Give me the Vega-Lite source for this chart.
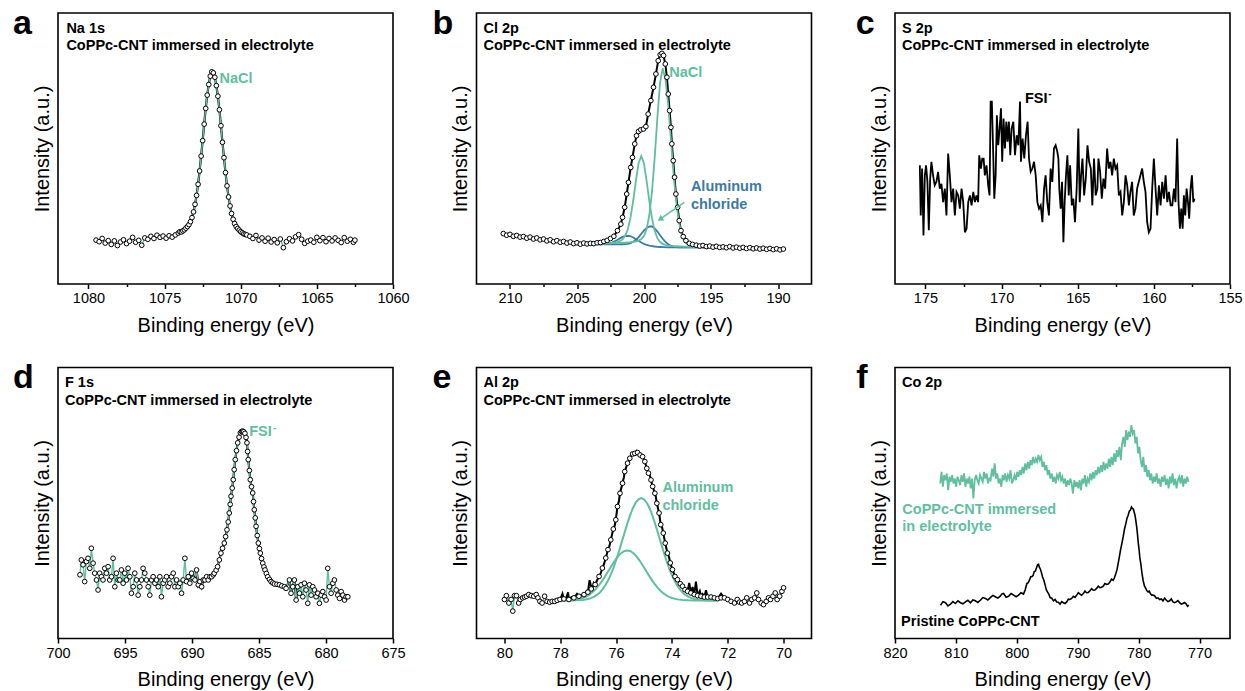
{
"$schema":"https://vega.github.io/schema/vega-lite/v6.json",
"padding":{"left":12,"top":6,"right":0,"bottom":0},
"config":{
 "font":"Liberation Sans",
 "view":{"stroke":"black","strokeWidth":1.6},
 "axis":{"domain":false,"grid":false,"labelColor":"black","titleColor":"black","tickColor":"black","tickWidth":1.5,"labelFontSize":14.5,"titleFontSize":20,"titleFontWeight":"normal","labelFont":"Liberation Sans","titleFont":"Liberation Sans","labelFlush":false,"labelOverlap":false},
 "text":{"font":"Liberation Sans","fontWeight":"bold","fontSize":14.5,"align":"left","baseline":"alphabetic","lineHeight":17.7}
},
"datasets":{
"a":[{"x":1079.5,"y":16.2},{"x":1079.3,"y":15.6},{"x":1079.1,"y":16.8},{"x":1078.9,"y":15.1},{"x":1078.7,"y":16.0},{"x":1078.5,"y":14.6},{"x":1078.3,"y":15.9},{"x":1078.1,"y":14.2},{"x":1077.9,"y":15.5},{"x":1077.7,"y":16.3},{"x":1077.5,"y":14.9},{"x":1077.3,"y":15.8},{"x":1077.1,"y":17.2},{"x":1076.9,"y":15.4},{"x":1076.7,"y":16.1},{"x":1076.5,"y":14.3},{"x":1076.3,"y":17.0},{"x":1076.1,"y":16.5},{"x":1075.9,"y":17.6},{"x":1075.7,"y":16.8},{"x":1075.5,"y":18.0},{"x":1075.3,"y":17.2},{"x":1075.1,"y":17.7},{"x":1074.9,"y":16.9},{"x":1074.7,"y":17.8},{"x":1074.5,"y":17.3},{"x":1074.3,"y":18.1},{"x":1074.1,"y":18.8},{"x":1074.0,"y":19.3},{"x":1073.9,"y":19.2},{"x":1073.8,"y":19.6},{"x":1073.7,"y":20.0},{"x":1073.6,"y":20.6},{"x":1073.5,"y":21.2},{"x":1073.4,"y":21.9},{"x":1073.3,"y":23.0},{"x":1073.2,"y":24.5},{"x":1073.1,"y":26.6},{"x":1073.0,"y":29.4},{"x":1072.9,"y":32.7},{"x":1072.8,"y":36.8},{"x":1072.7,"y":41.7},{"x":1072.6,"y":47.2},{"x":1072.5,"y":52.9},{"x":1072.4,"y":59.0},{"x":1072.3,"y":64.8},{"x":1072.2,"y":69.7},{"x":1072.1,"y":73.6},{"x":1072.0,"y":76.7},{"x":1071.9,"y":78.3},{"x":1071.8,"y":77.9},{"x":1071.7,"y":76.3},{"x":1071.6,"y":73.2},{"x":1071.5,"y":69.3},{"x":1071.4,"y":64.3},{"x":1071.3,"y":58.4},{"x":1071.2,"y":52.3},{"x":1071.1,"y":46.6},{"x":1071.0,"y":41.1},{"x":1070.9,"y":36.2},{"x":1070.8,"y":32.1},{"x":1070.7,"y":28.8},{"x":1070.6,"y":26.0},{"x":1070.5,"y":23.9},{"x":1070.4,"y":22.3},{"x":1070.3,"y":21.2},{"x":1070.2,"y":20.5},{"x":1070.1,"y":19.9},{"x":1070.0,"y":19.3},{"x":1069.9,"y":18.9},{"x":1069.8,"y":18.5},{"x":1069.7,"y":18.3},{"x":1069.6,"y":18.1},{"x":1069.4,"y":17.6},{"x":1069.2,"y":16.8},{"x":1069.0,"y":17.9},{"x":1068.8,"y":16.2},{"x":1068.6,"y":17.0},{"x":1068.4,"y":15.8},{"x":1068.2,"y":16.9},{"x":1068.0,"y":15.5},{"x":1067.8,"y":16.4},{"x":1067.6,"y":15.2},{"x":1067.4,"y":16.6},{"x":1067.2,"y":13.4},{"x":1067.0,"y":15.6},{"x":1066.8,"y":16.7},{"x":1066.6,"y":15.9},{"x":1066.4,"y":17.4},{"x":1066.2,"y":18.2},{"x":1066.0,"y":16.5},{"x":1065.8,"y":15.0},{"x":1065.6,"y":15.8},{"x":1065.4,"y":16.2},{"x":1065.2,"y":15.4},{"x":1065.0,"y":17.2},{"x":1064.8,"y":16.0},{"x":1064.6,"y":17.1},{"x":1064.4,"y":15.6},{"x":1064.2,"y":16.8},{"x":1064.0,"y":15.9},{"x":1063.8,"y":17.0},{"x":1063.6,"y":16.1},{"x":1063.4,"y":15.3},{"x":1063.2,"y":17.1},{"x":1063.0,"y":15.8},{"x":1062.8,"y":16.5},{"x":1062.6,"y":15.4},{"x":1062.5,"y":16.2}],
"b":[{"x":210.5,"y":18.6},{"x":210.25,"y":18.0},{"x":210.0,"y":18.3},{"x":209.75,"y":17.6},{"x":209.5,"y":17.9},{"x":209.25,"y":17.3},{"x":209.0,"y":17.5},{"x":208.75,"y":16.9},{"x":208.5,"y":17.3},{"x":208.25,"y":16.6},{"x":208.0,"y":17.0},{"x":207.75,"y":16.3},{"x":207.5,"y":16.6},{"x":207.25,"y":15.9},{"x":207.0,"y":16.3},{"x":206.75,"y":15.6},{"x":206.5,"y":16.0},{"x":206.25,"y":15.4},{"x":206.0,"y":15.7},{"x":205.75,"y":15.1},{"x":205.5,"y":15.5},{"x":205.25,"y":14.9},{"x":205.0,"y":15.2},{"x":204.75,"y":14.7},{"x":204.5,"y":15.1},{"x":204.25,"y":14.8},{"x":204.0,"y":15.0},{"x":203.75,"y":14.9},{"x":203.5,"y":15.2},{"x":203.25,"y":15.3},{"x":203.0,"y":15.7},{"x":202.75,"y":16.1},{"x":202.5,"y":16.8},{"x":202.25,"y":17.6},{"x":201.98,"y":19.7},{"x":201.73,"y":22.1},{"x":201.6,"y":24.6},{"x":201.44,"y":28.3},{"x":201.29,"y":33.2},{"x":201.16,"y":37.5},{"x":200.99,"y":43.0},{"x":200.86,"y":46.7},{"x":200.69,"y":51.7},{"x":200.56,"y":54.7},{"x":200.41,"y":56.3},{"x":200.24,"y":56.9},{"x":200.04,"y":57.2},{"x":199.86,"y":58.1},{"x":199.69,"y":62.7},{"x":199.49,"y":67.7},{"x":199.29,"y":72.6},{"x":199.11,"y":77.5},{"x":198.94,"y":82.4},{"x":198.79,"y":84.6},{"x":198.66,"y":85.1},{"x":198.54,"y":84.3},{"x":198.41,"y":81.2},{"x":198.29,"y":76.3},{"x":198.19,"y":70.1},{"x":198.09,"y":64.0},{"x":197.99,"y":57.8},{"x":197.92,"y":51.7},{"x":197.82,"y":45.5},{"x":197.72,"y":39.4},{"x":197.62,"y":33.2},{"x":197.49,"y":28.3},{"x":197.37,"y":23.4},{"x":197.24,"y":19.7},{"x":197.07,"y":17.5},{"x":196.87,"y":16.0},{"x":196.62,"y":15.0},{"x":196.37,"y":14.6},{"x":196.1,"y":14.3},{"x":195.85,"y":14.0},{"x":195.6,"y":14.2},{"x":195.35,"y":13.8},{"x":195.1,"y":14.0},{"x":194.85,"y":13.6},{"x":194.6,"y":13.9},{"x":194.35,"y":13.5},{"x":194.1,"y":13.7},{"x":193.85,"y":13.4},{"x":193.6,"y":13.8},{"x":193.35,"y":13.3},{"x":193.1,"y":13.6},{"x":192.85,"y":13.2},{"x":192.6,"y":13.5},{"x":192.35,"y":13.1},{"x":192.1,"y":13.4},{"x":191.85,"y":13.0},{"x":191.6,"y":13.3},{"x":191.35,"y":12.9},{"x":191.1,"y":13.2},{"x":190.85,"y":12.8},{"x":190.6,"y":13.1},{"x":190.35,"y":12.7},{"x":190.1,"y":13.0},{"x":189.85,"y":12.6},{"x":189.6,"y":12.9}],
"bc":[{"x":203.4,"y":14.86,"s":"P1"},{"x":203.0,"y":14.9,"s":"P1"},{"x":202.6,"y":14.96,"s":"P1"},{"x":202.2,"y":15.05,"s":"P1"},{"x":201.8,"y":15.17,"s":"P1"},{"x":201.4,"y":15.28,"s":"P1"},{"x":201.0,"y":15.41,"s":"P1"},{"x":200.6,"y":15.69,"s":"P1"},{"x":200.4,"y":16.03,"s":"P1"},{"x":200.2,"y":16.58,"s":"P1"},{"x":200.0,"y":17.8,"s":"P1"},{"x":199.8,"y":20.4,"s":"P1"},{"x":199.6,"y":25.55,"s":"P1"},{"x":199.4,"y":34.3,"s":"P1"},{"x":199.2,"y":46.8,"s":"P1"},{"x":199.0,"y":61.5,"s":"P1"},{"x":198.8,"y":74.35,"s":"P1"},{"x":198.6,"y":79.6,"s":"P1"},{"x":198.4,"y":75.5,"s":"P1"},{"x":198.2,"y":66.5,"s":"P1"},{"x":198.0,"y":54.0,"s":"P1"},{"x":197.8,"y":41.0,"s":"P1"},{"x":197.6,"y":30.5,"s":"P1"},{"x":197.4,"y":23.0,"s":"P1"},{"x":197.2,"y":18.5,"s":"P1"},{"x":197.0,"y":16.0,"s":"P1"},{"x":196.8,"y":14.9,"s":"P1"},{"x":196.6,"y":14.3,"s":"P1"},{"x":196.4,"y":14.0,"s":"P1"},{"x":196.0,"y":13.8,"s":"P1"},{"x":195.6,"y":13.6,"s":"P1"},{"x":195.2,"y":13.5,"s":"P1"},
{"x":203.4,"y":14.89,"s":"P2"},{"x":203.0,"y":14.96,"s":"P2"},{"x":202.6,"y":15.08,"s":"P2"},{"x":202.2,"y":15.29,"s":"P2"},{"x":202.0,"y":15.49,"s":"P2"},{"x":201.8,"y":15.79,"s":"P2"},{"x":201.6,"y":16.45,"s":"P2"},{"x":201.4,"y":17.75,"s":"P2"},{"x":201.2,"y":20.31,"s":"P2"},{"x":201.0,"y":24.65,"s":"P2"},{"x":200.8,"y":30.9,"s":"P2"},{"x":200.6,"y":38.2,"s":"P2"},{"x":200.4,"y":44.65,"s":"P2"},{"x":200.2,"y":47.2,"s":"P2"},{"x":200.0,"y":44.5,"s":"P2"},{"x":199.8,"y":37.9,"s":"P2"},{"x":199.6,"y":30.45,"s":"P2"},{"x":199.4,"y":24.1,"s":"P2"},{"x":199.2,"y":19.61,"s":"P2"},{"x":199.0,"y":16.9,"s":"P2"},{"x":198.8,"y":15.5,"s":"P2"},{"x":198.6,"y":14.79,"s":"P2"},{"x":198.4,"y":14.44,"s":"P2"},{"x":198.2,"y":14.19,"s":"P2"},{"x":198.0,"y":14.06,"s":"P2"},{"x":197.6,"y":13.93,"s":"P2"},{"x":197.0,"y":13.79,"s":"P2"},{"x":196.6,"y":13.7,"s":"P2"},{"x":196.0,"y":13.6,"s":"P2"},{"x":195.2,"y":13.5,"s":"P2"},
{"x":203.4,"y":14.6,"s":"P3"},{"x":202.0,"y":14.61,"s":"P3"},{"x":201.8,"y":14.62,"s":"P3"},{"x":201.6,"y":14.66,"s":"P3"},{"x":201.4,"y":14.7,"s":"P3"},{"x":201.2,"y":14.83,"s":"P3"},{"x":201.0,"y":15.09,"s":"P3"},{"x":200.8,"y":15.58,"s":"P3"},{"x":200.6,"y":16.3,"s":"P3"},{"x":200.4,"y":17.33,"s":"P3"},{"x":200.2,"y":18.55,"s":"P3"},{"x":200.0,"y":19.75,"s":"P3"},{"x":199.8,"y":20.71,"s":"P3"},{"x":199.6,"y":21.27,"s":"P3"},{"x":199.4,"y":21.22,"s":"P3"},{"x":199.2,"y":20.51,"s":"P3"},{"x":199.0,"y":19.35,"s":"P3"},{"x":198.8,"y":18.0,"s":"P3"},{"x":198.6,"y":16.68,"s":"P3"},{"x":198.4,"y":15.55,"s":"P3"},{"x":198.2,"y":14.68,"s":"P3"},{"x":198.0,"y":14.14,"s":"P3"},{"x":197.8,"y":13.83,"s":"P3"},{"x":197.6,"y":13.65,"s":"P3"},{"x":197.4,"y":13.56,"s":"P3"},{"x":197.0,"y":13.5,"s":"P3"},{"x":195.2,"y":13.5,"s":"P3"},
{"x":203.4,"y":14.62,"s":"P4"},{"x":203.0,"y":14.7,"s":"P4"},{"x":202.6,"y":15.0,"s":"P4"},{"x":202.4,"y":15.29,"s":"P4"},{"x":202.2,"y":15.72,"s":"P4"},{"x":202.0,"y":16.25,"s":"P4"},{"x":201.8,"y":16.83,"s":"P4"},{"x":201.6,"y":17.38,"s":"P4"},{"x":201.4,"y":17.71,"s":"P4"},{"x":201.2,"y":17.8,"s":"P4"},{"x":201.0,"y":17.61,"s":"P4"},{"x":200.8,"y":17.18,"s":"P4"},{"x":200.6,"y":16.53,"s":"P4"},{"x":200.4,"y":15.9,"s":"P4"},{"x":200.2,"y":15.32,"s":"P4"},{"x":200.0,"y":14.79,"s":"P4"},{"x":199.8,"y":14.4,"s":"P4"},{"x":199.6,"y":14.16,"s":"P4"},{"x":199.4,"y":14.0,"s":"P4"},{"x":199.2,"y":13.84,"s":"P4"},{"x":199.0,"y":13.72,"s":"P4"},{"x":198.8,"y":13.65,"s":"P4"},{"x":198.6,"y":13.6,"s":"P4"},{"x":198.2,"y":13.5,"s":"P4"},{"x":195.2,"y":13.5,"s":"P4"}],
"c":[{"x":175.37,"y":43.8},{"x":175.31,"y":25.3},{"x":175.22,"y":42.6},{"x":175.13,"y":17.9},{"x":175.04,"y":40.1},{"x":174.96,"y":43.8},{"x":174.87,"y":37.7},{"x":174.78,"y":19.8},{"x":174.69,"y":38.9},{"x":174.61,"y":45.1},{"x":174.5,"y":40.1},{"x":174.39,"y":36.4},{"x":174.28,"y":37.7},{"x":174.17,"y":41.4},{"x":174.06,"y":35.2},{"x":173.95,"y":37.0},{"x":173.84,"y":30.2},{"x":173.73,"y":35.2},{"x":173.62,"y":25.3},{"x":173.51,"y":48.1},{"x":173.4,"y":40.1},{"x":173.29,"y":30.2},{"x":173.18,"y":35.2},{"x":173.07,"y":25.3},{"x":172.96,"y":34.0},{"x":172.85,"y":32.7},{"x":172.74,"y":27.8},{"x":172.63,"y":35.2},{"x":172.52,"y":30.2},{"x":172.41,"y":19.1},{"x":172.3,"y":20.4},{"x":172.19,"y":30.2},{"x":172.08,"y":32.7},{"x":171.97,"y":29.0},{"x":171.86,"y":34.0},{"x":171.75,"y":30.2},{"x":171.65,"y":32.7},{"x":171.54,"y":30.2},{"x":171.47,"y":47.5},{"x":171.36,"y":42.6},{"x":171.27,"y":46.3},{"x":171.18,"y":46.3},{"x":171.1,"y":40.1},{"x":170.99,"y":43.8},{"x":170.88,"y":36.4},{"x":170.79,"y":32.7},{"x":170.72,"y":67.3},{"x":170.64,"y":67.3},{"x":170.57,"y":52.5},{"x":170.48,"y":31.5},{"x":170.39,"y":40.1},{"x":170.31,"y":62.3},{"x":170.22,"y":51.2},{"x":170.13,"y":57.4},{"x":170.04,"y":64.8},{"x":169.96,"y":45.1},{"x":169.87,"y":61.1},{"x":169.78,"y":50.0},{"x":169.69,"y":59.9},{"x":169.61,"y":52.5},{"x":169.52,"y":59.9},{"x":169.43,"y":47.5},{"x":169.34,"y":57.4},{"x":169.23,"y":59.9},{"x":169.12,"y":47.5},{"x":169.01,"y":54.9},{"x":168.9,"y":51.2},{"x":168.79,"y":67.3},{"x":168.73,"y":45.1},{"x":168.62,"y":53.7},{"x":168.51,"y":46.3},{"x":168.4,"y":54.9},{"x":168.29,"y":59.9},{"x":168.2,"y":46.3},{"x":168.09,"y":41.4},{"x":167.98,"y":42.6},{"x":167.87,"y":45.1},{"x":167.76,"y":40.1},{"x":167.65,"y":30.2},{"x":167.54,"y":27.8},{"x":167.43,"y":29.0},{"x":167.32,"y":22.8},{"x":167.21,"y":35.2},{"x":167.11,"y":40.1},{"x":167.0,"y":30.2},{"x":166.89,"y":25.3},{"x":166.78,"y":42.6},{"x":166.67,"y":37.7},{"x":166.56,"y":50.0},{"x":166.45,"y":51.2},{"x":166.34,"y":48.8},{"x":166.27,"y":46.3},{"x":166.21,"y":35.2},{"x":166.12,"y":27.8},{"x":166.03,"y":37.7},{"x":165.94,"y":15.4},{"x":165.86,"y":30.2},{"x":165.77,"y":40.1},{"x":165.68,"y":47.5},{"x":165.59,"y":32.7},{"x":165.5,"y":43.8},{"x":165.39,"y":29.0},{"x":165.29,"y":31.5},{"x":165.18,"y":22.8},{"x":165.07,"y":35.2},{"x":164.96,"y":57.4},{"x":164.87,"y":30.2},{"x":164.78,"y":40.1},{"x":164.69,"y":46.3},{"x":164.58,"y":32.7},{"x":164.47,"y":38.9},{"x":164.36,"y":51.2},{"x":164.25,"y":45.1},{"x":164.14,"y":42.6},{"x":164.04,"y":29.0},{"x":163.93,"y":46.3},{"x":163.82,"y":32.7},{"x":163.71,"y":35.2},{"x":163.64,"y":46.3},{"x":163.53,"y":41.4},{"x":163.42,"y":31.5},{"x":163.31,"y":38.9},{"x":163.2,"y":35.2},{"x":163.07,"y":50.0},{"x":162.96,"y":42.6},{"x":162.85,"y":45.1},{"x":162.74,"y":40.1},{"x":162.63,"y":46.3},{"x":162.52,"y":42.6},{"x":162.41,"y":43.8},{"x":162.3,"y":32.7},{"x":162.19,"y":34.0},{"x":162.08,"y":25.3},{"x":161.97,"y":30.2},{"x":161.86,"y":40.1},{"x":161.75,"y":36.4},{"x":161.64,"y":29.0},{"x":161.54,"y":34.0},{"x":161.43,"y":37.7},{"x":161.32,"y":25.3},{"x":161.21,"y":27.8},{"x":161.1,"y":35.2},{"x":160.99,"y":37.7},{"x":160.88,"y":40.1},{"x":160.77,"y":42.6},{"x":160.66,"y":37.7},{"x":160.55,"y":34.0},{"x":160.44,"y":22.8},{"x":160.33,"y":19.1},{"x":160.22,"y":20.4},{"x":160.11,"y":35.2},{"x":160.0,"y":46.3},{"x":159.89,"y":35.2},{"x":159.78,"y":25.3},{"x":159.67,"y":36.4},{"x":159.56,"y":29.0},{"x":159.45,"y":37.7},{"x":159.34,"y":31.5},{"x":159.23,"y":40.1},{"x":159.12,"y":30.2},{"x":159.01,"y":34.0},{"x":158.9,"y":29.0},{"x":158.79,"y":29.0},{"x":158.68,"y":35.2},{"x":158.58,"y":30.2},{"x":158.47,"y":53.7},{"x":158.38,"y":30.2},{"x":158.29,"y":20.4},{"x":158.2,"y":27.8},{"x":158.11,"y":20.4},{"x":158.03,"y":32.7},{"x":157.94,"y":25.3},{"x":157.85,"y":35.2},{"x":157.76,"y":30.2},{"x":157.68,"y":24.1},{"x":157.59,"y":35.2},{"x":157.5,"y":40.1},{"x":157.41,"y":30.2},{"x":157.33,"y":31.5}],
"d":[{"x":698.36,"y":23.5},{"x":698.26,"y":29.0},{"x":698.13,"y":27.2},{"x":698.01,"y":21.0},{"x":697.88,"y":28.4},{"x":697.76,"y":29.6},{"x":697.63,"y":25.9},{"x":697.51,"y":33.3},{"x":697.38,"y":27.8},{"x":697.26,"y":24.1},{"x":697.13,"y":21.6},{"x":697.01,"y":17.9},{"x":696.89,"y":24.1},{"x":696.76,"y":22.8},{"x":696.64,"y":21.6},{"x":696.51,"y":25.9},{"x":696.39,"y":24.1},{"x":696.26,"y":26.5},{"x":696.14,"y":21.6},{"x":696.01,"y":22.8},{"x":695.89,"y":29.6},{"x":695.76,"y":19.1},{"x":695.64,"y":24.1},{"x":695.51,"y":21.6},{"x":695.39,"y":21.6},{"x":695.27,"y":25.3},{"x":695.14,"y":20.4},{"x":695.02,"y":24.1},{"x":694.89,"y":21.6},{"x":694.77,"y":25.9},{"x":694.64,"y":22.8},{"x":694.52,"y":16.7},{"x":694.39,"y":19.1},{"x":694.27,"y":24.1},{"x":694.14,"y":21.6},{"x":694.02,"y":16.0},{"x":693.89,"y":19.1},{"x":693.77,"y":21.6},{"x":693.65,"y":25.9},{"x":693.52,"y":24.1},{"x":693.4,"y":21.6},{"x":693.27,"y":19.1},{"x":693.15,"y":16.0},{"x":693.02,"y":21.6},{"x":692.9,"y":22.8},{"x":692.77,"y":20.4},{"x":692.65,"y":21.6},{"x":692.52,"y":19.1},{"x":692.4,"y":22.8},{"x":692.28,"y":15.4},{"x":692.15,"y":20.4},{"x":692.03,"y":21.6},{"x":691.9,"y":22.8},{"x":691.78,"y":19.1},{"x":691.65,"y":20.4},{"x":691.53,"y":22.8},{"x":691.4,"y":24.1},{"x":691.28,"y":19.1},{"x":691.15,"y":21.6},{"x":691.03,"y":19.1},{"x":690.9,"y":20.4},{"x":690.78,"y":16.7},{"x":690.66,"y":21.6},{"x":690.53,"y":29.6},{"x":690.41,"y":21.0},{"x":690.28,"y":22.8},{"x":690.16,"y":20.4},{"x":690.03,"y":24.1},{"x":689.91,"y":22.2},{"x":689.78,"y":21.6},{"x":689.66,"y":25.3},{"x":689.53,"y":19.8},{"x":689.41,"y":21.0},{"x":689.28,"y":19.1},{"x":689.16,"y":21.6},{"x":689.04,"y":21.6},{"x":688.91,"y":22.8},{"x":688.79,"y":21.6},{"x":688.66,"y":22.8},{"x":688.54,"y":22.8},{"x":688.41,"y":23.5},{"x":688.34,"y":24.1},{"x":688.2,"y":25.2},{"x":688.09,"y":26.5},{"x":687.96,"y":29.0},{"x":687.84,"y":31.5},{"x":687.72,"y":33.3},{"x":687.59,"y":35.2},{"x":687.49,"y":37.6},{"x":687.39,"y":40.1},{"x":687.3,"y":43.0},{"x":687.22,"y":46.3},{"x":687.15,"y":49.5},{"x":687.09,"y":52.5},{"x":687.0,"y":55.5},{"x":686.92,"y":58.6},{"x":686.85,"y":62.3},{"x":686.77,"y":66.0},{"x":686.68,"y":69.3},{"x":686.59,"y":72.2},{"x":686.49,"y":74.3},{"x":686.39,"y":75.9},{"x":686.3,"y":76.4},{"x":686.22,"y":76.5},{"x":686.14,"y":76.3},{"x":686.05,"y":75.7},{"x":685.97,"y":74.2},{"x":685.9,"y":72.2},{"x":685.85,"y":69.0},{"x":685.8,"y":66.0},{"x":685.72,"y":62.0},{"x":685.65,"y":58.6},{"x":685.56,"y":56.0},{"x":685.47,"y":53.7},{"x":685.41,"y":50.5},{"x":685.35,"y":47.5},{"x":685.28,"y":44.5},{"x":685.22,"y":41.4},{"x":685.13,"y":38.0},{"x":685.05,"y":35.2},{"x":684.97,"y":33.2},{"x":684.9,"y":31.5},{"x":684.81,"y":29.5},{"x":684.72,"y":27.8},{"x":684.63,"y":26.4},{"x":684.55,"y":25.3},{"x":684.45,"y":24.0},{"x":684.35,"y":22.8},{"x":684.22,"y":21.8},{"x":684.1,"y":21.0},{"x":683.97,"y":20.5},{"x":683.85,"y":20.1},{"x":683.66,"y":20.0},{"x":683.48,"y":19.8},{"x":683.3,"y":19.4},{"x":683.11,"y":19.1},{"x":682.98,"y":18.5},{"x":682.73,"y":21.6},{"x":682.61,"y":16.7},{"x":682.48,"y":19.1},{"x":682.36,"y":21.6},{"x":682.23,"y":14.2},{"x":682.11,"y":19.1},{"x":681.98,"y":16.7},{"x":681.86,"y":19.8},{"x":681.73,"y":15.4},{"x":681.61,"y":20.4},{"x":681.49,"y":17.9},{"x":681.36,"y":13.0},{"x":681.24,"y":19.8},{"x":681.11,"y":16.0},{"x":680.99,"y":19.1},{"x":680.86,"y":17.9},{"x":680.74,"y":15.4},{"x":680.61,"y":16.7},{"x":680.49,"y":13.0},{"x":680.36,"y":16.0},{"x":680.24,"y":17.3},{"x":680.11,"y":15.4},{"x":679.99,"y":14.2},{"x":679.87,"y":25.9},{"x":679.74,"y":19.1},{"x":679.62,"y":16.7},{"x":679.49,"y":20.4},{"x":679.37,"y":21.6},{"x":679.24,"y":17.9},{"x":679.12,"y":16.0},{"x":678.99,"y":14.8},{"x":678.87,"y":17.3},{"x":678.74,"y":16.0},{"x":678.62,"y":14.2},{"x":678.5,"y":15.4},{"x":678.37,"y":15.4}],
"e":[{"x":80.0,"y":14.4},{"x":79.93,"y":15.8},{"x":79.84,"y":13.1},{"x":79.76,"y":14.4},{"x":79.7,"y":10.1},{"x":79.64,"y":15.8},{"x":79.57,"y":15.8},{"x":79.49,"y":13.1},{"x":79.43,"y":14.4},{"x":79.35,"y":15.0},{"x":79.28,"y":15.3},{"x":79.21,"y":15.6},{"x":79.13,"y":16.2},{"x":79.04,"y":15.8},{"x":78.95,"y":15.6},{"x":78.86,"y":16.2},{"x":78.8,"y":15.0},{"x":78.73,"y":13.7},{"x":78.65,"y":13.1},{"x":78.56,"y":15.6},{"x":78.47,"y":13.7},{"x":78.38,"y":13.4},{"x":78.29,"y":13.7},{"x":78.2,"y":13.7},{"x":78.11,"y":14.1},{"x":78.01,"y":14.4},{"x":77.87,"y":14.6},{"x":77.69,"y":14.4},{"x":77.51,"y":15.0},{"x":77.33,"y":15.6},{"x":77.15,"y":16.2},{"x":77.01,"y":17.1},{"x":76.89,"y":18.3},{"x":76.75,"y":19.9},{"x":76.61,"y":22.9},{"x":76.49,"y":26.0},{"x":76.37,"y":29.7},{"x":76.29,"y":32.8},{"x":76.19,"y":36.4},{"x":76.1,"y":40.4},{"x":76.01,"y":43.8},{"x":75.95,"y":48.7},{"x":75.86,"y":53.6},{"x":75.77,"y":57.3},{"x":75.69,"y":61.6},{"x":75.59,"y":64.7},{"x":75.51,"y":66.5},{"x":75.41,"y":68.1},{"x":75.33,"y":68.3},{"x":75.23,"y":68.6},{"x":75.14,"y":67.7},{"x":75.05,"y":67.1},{"x":74.97,"y":65.3},{"x":74.9,"y":62.8},{"x":74.84,"y":61.0},{"x":74.75,"y":58.5},{"x":74.69,"y":56.1},{"x":74.61,"y":53.6},{"x":74.54,"y":49.9},{"x":74.46,"y":46.3},{"x":74.4,"y":42.0},{"x":74.31,"y":38.9},{"x":74.24,"y":35.2},{"x":74.16,"y":31.5},{"x":74.06,"y":27.9},{"x":73.98,"y":25.4},{"x":73.89,"y":22.9},{"x":73.8,"y":21.7},{"x":73.7,"y":20.2},{"x":73.62,"y":19.3},{"x":73.53,"y":18.0},{"x":73.44,"y":17.4},{"x":73.32,"y":16.8},{"x":73.2,"y":16.2},{"x":73.08,"y":15.8},{"x":72.96,"y":15.6},{"x":72.84,"y":15.3},{"x":72.72,"y":15.3},{"x":72.6,"y":15.3},{"x":72.48,"y":15.0},{"x":72.36,"y":14.7},{"x":72.24,"y":15.0},{"x":72.12,"y":15.0},{"x":72.0,"y":14.4},{"x":71.88,"y":13.7},{"x":71.76,"y":13.1},{"x":71.66,"y":14.4},{"x":71.58,"y":13.4},{"x":71.5,"y":13.1},{"x":71.4,"y":13.7},{"x":71.32,"y":15.0},{"x":71.22,"y":13.1},{"x":71.14,"y":14.4},{"x":71.04,"y":15.0},{"x":70.96,"y":16.8},{"x":70.9,"y":14.4},{"x":70.8,"y":13.1},{"x":70.72,"y":12.5},{"x":70.62,"y":13.7},{"x":70.54,"y":15.0},{"x":70.47,"y":14.4},{"x":70.38,"y":15.6},{"x":70.3,"y":16.8},{"x":70.23,"y":14.4},{"x":70.14,"y":15.6},{"x":70.06,"y":17.4},{"x":70.0,"y":18.7}],
"eb":[{"x":78.1,"y":14.1},{"x":78.0,"y":14.4},{"x":77.92,"y":16.5},{"x":77.87,"y":14.6},{"x":77.78,"y":15.2},{"x":77.72,"y":17.0},{"x":77.69,"y":14.4},{"x":77.6,"y":15.3},{"x":77.51,"y":15.0},{"x":77.4,"y":16.5},{"x":77.33,"y":15.6},{"x":77.25,"y":16.0},{"x":77.15,"y":16.2},{"x":77.05,"y":17.5},{"x":77.01,"y":17.1},{"x":76.95,"y":21.5},{"x":76.9,"y":19.5},{"x":76.85,"y":18.3},{"x":76.8,"y":20.5},{"x":76.75,"y":19.9},{"x":76.68,"y":21.5},{"x":76.61,"y":22.9},{"x":76.55,"y":24.0},{"x":76.49,"y":26.0},{"x":76.43,"y":27.5},{"x":76.37,"y":29.7},{"x":76.29,"y":32.8},{"x":76.24,"y":34.0},{"x":76.19,"y":36.4},{"x":76.1,"y":40.4},{"x":76.05,"y":41.5},{"x":76.01,"y":43.8},{"x":75.95,"y":48.7},{"x":75.9,"y":50.5},{"x":75.86,"y":53.6},{"x":75.77,"y":57.3},{"x":75.72,"y":59.5},{"x":75.69,"y":61.6},{"x":75.59,"y":64.7},{"x":75.55,"y":65.0},{"x":75.51,"y":66.5},{"x":75.41,"y":68.1},{"x":75.33,"y":68.3},{"x":75.27,"y":69.2},{"x":75.23,"y":68.6},{"x":75.14,"y":67.7},{"x":75.05,"y":67.1},{"x":74.97,"y":65.3},{"x":74.9,"y":62.8},{"x":74.84,"y":61.0},{"x":74.8,"y":60.5},{"x":74.75,"y":58.5},{"x":74.69,"y":56.1},{"x":74.61,"y":53.6},{"x":74.58,"y":52.5},{"x":74.54,"y":49.9},{"x":74.46,"y":46.3},{"x":74.4,"y":42.0},{"x":74.35,"y":41.0},{"x":74.31,"y":38.9},{"x":74.24,"y":35.2},{"x":74.16,"y":31.5},{"x":74.1,"y":30.0},{"x":74.06,"y":27.9},{"x":73.98,"y":25.4},{"x":73.89,"y":22.9},{"x":73.8,"y":21.7},{"x":73.7,"y":20.2},{"x":73.62,"y":19.3},{"x":73.53,"y":18.0},{"x":73.44,"y":17.4},{"x":73.38,"y":20.5},{"x":73.32,"y":16.8},{"x":73.26,"y":19.0},{"x":73.2,"y":16.2},{"x":73.14,"y":21.0},{"x":73.08,"y":15.8},{"x":73.0,"y":17.5},{"x":72.96,"y":15.6},{"x":72.9,"y":16.4},{"x":72.84,"y":15.3},{"x":72.78,"y":17.8},{"x":72.72,"y":15.3},{"x":72.6,"y":15.3},{"x":72.48,"y":15.0},{"x":72.36,"y":14.7},{"x":72.24,"y":16.5},{"x":72.12,"y":15.0},{"x":72.0,"y":14.4}],
"ec":[{"x":78.0,"y":14.0,"s":"C1"},{"x":77.6,"y":14.03,"s":"C1"},{"x":77.4,"y":14.08,"s":"C1"},{"x":77.2,"y":14.23,"s":"C1"},{"x":77.0,"y":14.59,"s":"C1"},{"x":76.9,"y":14.9,"s":"C1"},{"x":76.8,"y":15.35,"s":"C1"},{"x":76.7,"y":15.97,"s":"C1"},{"x":76.6,"y":16.82,"s":"C1"},{"x":76.5,"y":17.93,"s":"C1"},{"x":76.4,"y":19.37,"s":"C1"},{"x":76.3,"y":21.18,"s":"C1"},{"x":76.2,"y":23.37,"s":"C1"},{"x":76.1,"y":25.91,"s":"C1"},{"x":76.0,"y":28.86,"s":"C1"},{"x":75.9,"y":32.07,"s":"C1"},{"x":75.8,"y":35.47,"s":"C1"},{"x":75.7,"y":38.95,"s":"C1"},{"x":75.6,"y":42.31,"s":"C1"},{"x":75.5,"y":45.41,"s":"C1"},{"x":75.4,"y":48.06,"s":"C1"},{"x":75.3,"y":50.1,"s":"C1"},{"x":75.2,"y":51.37,"s":"C1"},{"x":75.1,"y":51.8,"s":"C1"},{"x":75.0,"y":51.37,"s":"C1"},{"x":74.9,"y":50.1,"s":"C1"},{"x":74.8,"y":48.06,"s":"C1"},{"x":74.7,"y":45.41,"s":"C1"},{"x":74.6,"y":42.31,"s":"C1"},{"x":74.5,"y":38.95,"s":"C1"},{"x":74.4,"y":35.47,"s":"C1"},{"x":74.3,"y":32.07,"s":"C1"},{"x":74.2,"y":28.86,"s":"C1"},{"x":74.1,"y":25.91,"s":"C1"},{"x":74.0,"y":23.37,"s":"C1"},{"x":73.9,"y":21.18,"s":"C1"},{"x":73.8,"y":19.37,"s":"C1"},{"x":73.7,"y":17.93,"s":"C1"},{"x":73.6,"y":16.82,"s":"C1"},{"x":73.5,"y":15.97,"s":"C1"},{"x":73.4,"y":15.35,"s":"C1"},{"x":73.3,"y":14.9,"s":"C1"},{"x":73.2,"y":14.59,"s":"C1"},{"x":73.0,"y":14.23,"s":"C1"},{"x":72.8,"y":14.08,"s":"C1"},{"x":72.6,"y":14.03,"s":"C1"},{"x":72.4,"y":14.01,"s":"C1"},
{"x":78.0,"y":14.02,"s":"C2"},{"x":77.8,"y":14.07,"s":"C2"},{"x":77.6,"y":14.18,"s":"C2"},{"x":77.4,"y":14.44,"s":"C2"},{"x":77.2,"y":14.97,"s":"C2"},{"x":77.1,"y":15.38,"s":"C2"},{"x":77.0,"y":15.92,"s":"C2"},{"x":76.9,"y":16.63,"s":"C2"},{"x":76.8,"y":17.52,"s":"C2"},{"x":76.7,"y":18.59,"s":"C2"},{"x":76.6,"y":19.83,"s":"C2"},{"x":76.5,"y":21.27,"s":"C2"},{"x":76.4,"y":22.84,"s":"C2"},{"x":76.3,"y":24.51,"s":"C2"},{"x":76.2,"y":26.21,"s":"C2"},{"x":76.1,"y":27.86,"s":"C2"},{"x":76.0,"y":29.37,"s":"C2"},{"x":75.9,"y":30.67,"s":"C2"},{"x":75.8,"y":31.67,"s":"C2"},{"x":75.7,"y":32.29,"s":"C2"},{"x":75.6,"y":32.5,"s":"C2"},{"x":75.5,"y":32.29,"s":"C2"},{"x":75.4,"y":31.67,"s":"C2"},{"x":75.3,"y":30.67,"s":"C2"},{"x":75.2,"y":29.37,"s":"C2"},{"x":75.1,"y":27.86,"s":"C2"},{"x":75.0,"y":26.21,"s":"C2"},{"x":74.9,"y":24.51,"s":"C2"},{"x":74.8,"y":22.84,"s":"C2"},{"x":74.7,"y":21.27,"s":"C2"},{"x":74.6,"y":19.83,"s":"C2"},{"x":74.5,"y":18.59,"s":"C2"},{"x":74.4,"y":17.52,"s":"C2"},{"x":74.3,"y":16.63,"s":"C2"},{"x":74.2,"y":15.92,"s":"C2"},{"x":74.1,"y":15.38,"s":"C2"},{"x":74.0,"y":14.97,"s":"C2"},{"x":73.8,"y":14.44,"s":"C2"},{"x":73.6,"y":14.18,"s":"C2"},{"x":73.4,"y":14.07,"s":"C2"},{"x":73.2,"y":14.02,"s":"C2"},{"x":72.8,"y":14.0,"s":"C2"},{"x":72.4,"y":14.0,"s":"C2"}],
"fp":[{"x":812.53,"y":12.3},{"x":812.12,"y":13.6},{"x":811.71,"y":13.2},{"x":811.3,"y":12.0},{"x":810.89,"y":12.7},{"x":810.49,"y":13.6},{"x":810.08,"y":12.9},{"x":809.67,"y":13.9},{"x":809.26,"y":13.2},{"x":808.85,"y":12.8},{"x":808.44,"y":13.5},{"x":808.03,"y":14.1},{"x":807.62,"y":13.2},{"x":807.21,"y":14.2},{"x":806.8,"y":13.9},{"x":806.4,"y":13.3},{"x":805.99,"y":14.1},{"x":805.58,"y":15.1},{"x":805.17,"y":14.8},{"x":804.76,"y":14.2},{"x":804.35,"y":15.1},{"x":803.94,"y":15.9},{"x":803.53,"y":15.4},{"x":803.12,"y":14.9},{"x":802.72,"y":15.6},{"x":802.45,"y":16.4},{"x":802.17,"y":16.6},{"x":801.76,"y":15.2},{"x":801.35,"y":15.6},{"x":800.94,"y":16.6},{"x":800.53,"y":16.0},{"x":800.12,"y":15.4},{"x":799.72,"y":16.0},{"x":799.31,"y":16.9},{"x":798.9,"y":16.4},{"x":798.62,"y":18.0},{"x":798.35,"y":20.3},{"x":798.13,"y":20.6},{"x":797.92,"y":21.5},{"x":797.73,"y":22.8},{"x":797.54,"y":22.8},{"x":797.34,"y":23.2},{"x":797.15,"y":24.6},{"x":796.93,"y":25.0},{"x":796.72,"y":26.4},{"x":796.58,"y":27.3},{"x":796.44,"y":27.4},{"x":796.3,"y":26.3},{"x":796.17,"y":25.8},{"x":795.98,"y":24.5},{"x":795.79,"y":22.8},{"x":795.57,"y":21.6},{"x":795.35,"y":19.7},{"x":795.16,"y":18.0},{"x":794.97,"y":17.2},{"x":794.75,"y":16.4},{"x":794.54,"y":15.1},{"x":794.27,"y":14.9},{"x":793.99,"y":13.9},{"x":793.72,"y":14.4},{"x":793.45,"y":13.5},{"x":793.18,"y":13.4},{"x":792.9,"y":12.7},{"x":792.63,"y":13.6},{"x":792.36,"y":13.2},{"x":792.09,"y":12.9},{"x":791.81,"y":13.5},{"x":791.54,"y":14.5},{"x":791.27,"y":14.4},{"x":791.0,"y":14.8},{"x":790.72,"y":15.6},{"x":790.45,"y":15.2},{"x":790.17,"y":16.0},{"x":789.9,"y":16.9},{"x":789.63,"y":16.4},{"x":789.36,"y":16.0},{"x":789.08,"y":16.6},{"x":788.81,"y":17.5},{"x":788.54,"y":16.9},{"x":788.27,"y":17.0},{"x":787.99,"y":17.6},{"x":787.72,"y":18.4},{"x":787.45,"y":17.8},{"x":787.18,"y":17.9},{"x":786.9,"y":18.5},{"x":786.63,"y":19.3},{"x":786.35,"y":18.8},{"x":786.08,"y":18.9},{"x":785.81,"y":19.3},{"x":785.54,"y":20.3},{"x":785.26,"y":20.0},{"x":784.99,"y":20.1},{"x":784.72,"y":20.8},{"x":784.45,"y":21.9},{"x":784.17,"y":21.5},{"x":783.96,"y":22.5},{"x":783.74,"y":24.0},{"x":783.55,"y":25.4},{"x":783.36,"y":27.7},{"x":783.17,"y":30.0},{"x":782.98,"y":32.6},{"x":782.76,"y":35.0},{"x":782.54,"y":37.5},{"x":782.32,"y":40.4},{"x":782.1,"y":42.4},{"x":781.91,"y":44.4},{"x":781.72,"y":45.5},{"x":781.53,"y":47.0},{"x":781.34,"y":47.4},{"x":781.17,"y":48.5},{"x":781.01,"y":48.0},{"x":780.87,"y":47.8},{"x":780.74,"y":46.7},{"x":780.6,"y":45.5},{"x":780.47,"y":43.7},{"x":780.33,"y":41.4},{"x":780.2,"y":38.7},{"x":780.06,"y":35.3},{"x":779.92,"y":32.6},{"x":779.79,"y":29.6},{"x":779.65,"y":27.7},{"x":779.46,"y":24.2},{"x":779.27,"y":21.5},{"x":779.05,"y":19.4},{"x":778.83,"y":18.5},{"x":778.64,"y":17.6},{"x":778.45,"y":17.2},{"x":778.26,"y":17.5},{"x":778.07,"y":16.6},{"x":777.85,"y":16.0},{"x":777.63,"y":16.0},{"x":777.36,"y":15.7},{"x":777.09,"y":14.8},{"x":776.82,"y":15.0},{"x":776.54,"y":14.4},{"x":776.27,"y":14.6},{"x":776.0,"y":13.9},{"x":775.73,"y":14.9},{"x":775.45,"y":14.1},{"x":775.18,"y":13.6},{"x":774.91,"y":13.9},{"x":774.64,"y":14.6},{"x":774.36,"y":13.5},{"x":774.09,"y":13.2},{"x":773.82,"y":13.5},{"x":773.55,"y":14.0},{"x":773.27,"y":13.2},{"x":773.0,"y":12.7},{"x":772.73,"y":12.9},{"x":772.46,"y":13.3},{"x":772.18,"y":12.7},{"x":771.97,"y":11.9},{"x":771.75,"y":12.3}],
"ft":[{"x":812.58,"y":57.2},{"x":812.36,"y":61.5},{"x":812.14,"y":56.0},{"x":811.93,"y":60.3},{"x":811.71,"y":58.4},{"x":811.49,"y":60.9},{"x":811.27,"y":54.7},{"x":811.05,"y":59.7},{"x":810.84,"y":57.8},{"x":810.62,"y":60.3},{"x":810.4,"y":57.2},{"x":810.18,"y":59.0},{"x":809.96,"y":56.0},{"x":809.75,"y":59.7},{"x":809.53,"y":58.4},{"x":809.31,"y":56.6},{"x":809.09,"y":60.3},{"x":808.87,"y":57.8},{"x":808.66,"y":60.9},{"x":808.44,"y":56.0},{"x":808.22,"y":59.0},{"x":808.0,"y":57.2},{"x":807.78,"y":59.7},{"x":807.57,"y":55.4},{"x":807.35,"y":59.0},{"x":807.13,"y":51.7},{"x":806.91,"y":58.4},{"x":806.69,"y":60.3},{"x":806.48,"y":58.4},{"x":806.26,"y":57.2},{"x":806.04,"y":60.3},{"x":805.82,"y":59.0},{"x":805.6,"y":57.8},{"x":805.39,"y":61.5},{"x":805.17,"y":59.0},{"x":804.95,"y":60.9},{"x":804.73,"y":57.2},{"x":804.51,"y":59.0},{"x":804.3,"y":58.4},{"x":804.08,"y":62.7},{"x":803.86,"y":59.7},{"x":803.64,"y":64.6},{"x":803.42,"y":59.0},{"x":803.21,"y":60.9},{"x":802.99,"y":57.2},{"x":802.77,"y":59.0},{"x":802.55,"y":56.0},{"x":802.33,"y":60.3},{"x":802.12,"y":58.4},{"x":801.9,"y":60.9},{"x":801.68,"y":57.8},{"x":801.46,"y":60.3},{"x":801.24,"y":59.0},{"x":801.03,"y":62.1},{"x":800.81,"y":57.2},{"x":800.59,"y":58.4},{"x":800.37,"y":60.3},{"x":800.15,"y":58.4},{"x":799.94,"y":61.5},{"x":799.72,"y":59.7},{"x":799.5,"y":62.1},{"x":799.28,"y":60.3},{"x":799.06,"y":63.3},{"x":798.85,"y":60.9},{"x":798.63,"y":64.6},{"x":798.41,"y":62.1},{"x":798.19,"y":65.2},{"x":797.97,"y":62.7},{"x":797.76,"y":65.8},{"x":797.54,"y":64.0},{"x":797.32,"y":67.0},{"x":797.1,"y":64.6},{"x":796.88,"y":66.4},{"x":796.67,"y":65.2},{"x":796.45,"y":67.7},{"x":796.23,"y":65.8},{"x":796.01,"y":67.0},{"x":795.79,"y":63.3},{"x":795.58,"y":65.2},{"x":795.36,"y":62.1},{"x":795.14,"y":64.0},{"x":794.92,"y":60.3},{"x":794.7,"y":62.1},{"x":794.49,"y":59.0},{"x":794.27,"y":60.9},{"x":794.05,"y":57.8},{"x":793.83,"y":59.7},{"x":793.61,"y":57.2},{"x":793.4,"y":60.3},{"x":793.18,"y":59.0},{"x":792.96,"y":61.5},{"x":792.74,"y":58.4},{"x":792.52,"y":59.7},{"x":792.31,"y":57.2},{"x":792.09,"y":59.0},{"x":791.87,"y":56.0},{"x":791.65,"y":58.4},{"x":791.43,"y":56.6},{"x":791.22,"y":59.0},{"x":791.0,"y":57.2},{"x":790.78,"y":53.5},{"x":790.56,"y":58.4},{"x":790.34,"y":56.0},{"x":790.13,"y":57.8},{"x":789.91,"y":55.4},{"x":789.69,"y":58.4},{"x":789.47,"y":54.7},{"x":789.25,"y":59.0},{"x":789.04,"y":57.2},{"x":788.82,"y":60.3},{"x":788.6,"y":56.0},{"x":788.38,"y":59.0},{"x":788.16,"y":57.8},{"x":787.95,"y":60.9},{"x":787.73,"y":58.4},{"x":787.51,"y":61.5},{"x":787.29,"y":59.0},{"x":787.07,"y":62.1},{"x":786.86,"y":60.3},{"x":786.64,"y":63.3},{"x":786.42,"y":60.9},{"x":786.2,"y":64.0},{"x":785.98,"y":61.5},{"x":785.77,"y":65.2},{"x":785.55,"y":62.1},{"x":785.33,"y":64.6},{"x":785.11,"y":62.7},{"x":784.89,"y":66.4},{"x":784.68,"y":63.3},{"x":784.46,"y":67.0},{"x":784.24,"y":64.0},{"x":784.02,"y":68.3},{"x":783.8,"y":65.2},{"x":783.59,"y":69.5},{"x":783.37,"y":67.0},{"x":783.15,"y":70.7},{"x":782.93,"y":65.8},{"x":782.71,"y":72.0},{"x":782.5,"y":74.4},{"x":782.28,"y":70.7},{"x":782.06,"y":76.9},{"x":781.84,"y":73.2},{"x":781.62,"y":76.3},{"x":781.41,"y":74.4},{"x":781.19,"y":78.7},{"x":780.97,"y":75.6},{"x":780.75,"y":76.9},{"x":780.53,"y":72.0},{"x":780.32,"y":74.4},{"x":780.1,"y":68.3},{"x":779.88,"y":70.7},{"x":779.66,"y":65.8},{"x":779.44,"y":63.3},{"x":779.23,"y":67.0},{"x":779.01,"y":61.5},{"x":778.79,"y":64.0},{"x":778.57,"y":59.7},{"x":778.35,"y":62.1},{"x":778.14,"y":58.4},{"x":777.92,"y":60.9},{"x":777.7,"y":57.2},{"x":777.48,"y":59.7},{"x":777.26,"y":57.8},{"x":777.05,"y":60.9},{"x":776.83,"y":57.2},{"x":776.61,"y":59.0},{"x":776.39,"y":56.0},{"x":776.17,"y":59.7},{"x":775.96,"y":57.8},{"x":775.74,"y":60.3},{"x":775.52,"y":56.6},{"x":775.3,"y":59.0},{"x":775.08,"y":55.4},{"x":774.87,"y":59.7},{"x":774.65,"y":57.2},{"x":774.43,"y":60.9},{"x":774.21,"y":56.6},{"x":773.99,"y":59.0},{"x":773.78,"y":55.4},{"x":773.56,"y":58.4},{"x":773.34,"y":59.7},{"x":773.12,"y":57.2},{"x":772.9,"y":60.3},{"x":772.69,"y":56.0},{"x":772.47,"y":59.0},{"x":772.25,"y":57.2},{"x":772.03,"y":59.7},{"x":771.81,"y":57.8}]
},
"bounds":"flush",
"columns":3,
"spacing":{"row":83.5,"column":83.5},
"concat":[
{"width":335,"height":271,
 "layer":[
  {"data":{"name":"a"},"transform":[{"filter":"datum.x < 1074.6 && datum.x > 1069.3"}],"mark":{"type":"line","color":"black","strokeWidth":2.2},
   "encoding":{"x":{"field":"x","type":"quantitative","scale":{"domain":[1082,1060],"nice":false,"zero":false},"axis":{"title":"Binding energy (eV)","values":[1080,1077.5,1075,1072.5,1070,1067.5,1065,1062.5,1060],"format":"d","labelExpr":"datum.value % 5 === 0 ? datum.label : ''","tickSize":{"condition":{"test":"datum.value % 5 === 0","value":4.5},"value":2.5},"labelPadding":3,"titlePadding":10}},
   "y":{"field":"y","type":"quantitative","scale":{"domain":[0,100],"nice":false,"zero":false},"axis":{"title":"Intensity (a.u.)","labels":false,"ticks":false,"titlePadding":6}}}},
  {"data":{"name":"a"},"mark":{"type":"line","color":"#5fbf9f","strokeWidth":1.4},
   "encoding":{"x":{"field":"x","type":"quantitative","scale":{"domain":[1082,1060],"nice":false,"zero":false}},"y":{"field":"y","type":"quantitative","scale":{"domain":[0,100],"nice":false,"zero":false}}}},
  {"data":{"name":"a"},"mark":{"type":"point","shape":"circle","filled":true,"fill":"white","stroke":"black","strokeWidth":1,"size":22,"opacity":1},
   "encoding":{"x":{"field":"x","type":"quantitative","scale":{"domain":[1082,1060],"nice":false,"zero":false}},"y":{"field":"y","type":"quantitative","scale":{"domain":[0,100],"nice":false,"zero":false}}}},
  {"data":{"values":[{}]},"mark":{"type":"text","text":"a","color":"black","fontSize":34},
   "encoding":{"x":{"datum":1084.95,"type":"quantitative","scale":{"domain":[1082,1060],"nice":false,"zero":false}},"y":{"datum":92.3,"type":"quantitative","scale":{"domain":[0,100],"nice":false,"zero":false}}}},
  {"data":{"values":[{}]},"mark":{"type":"text","text":["Na 1s","CoPPc-CNT immersed in electrolyte"],"color":"black"},
   "encoding":{"x":{"datum":1081.45,"type":"quantitative","scale":{"domain":[1082,1060],"nice":false,"zero":false}},"y":{"datum":92.7,"type":"quantitative","scale":{"domain":[0,100],"nice":false,"zero":false}}}},
  {"data":{"values":[{}]},"mark":{"type":"text","text":"NaCl","color":"#5fbf9f"},
   "encoding":{"x":{"datum":1071.4,"type":"quantitative","scale":{"domain":[1082,1060],"nice":false,"zero":false}},"y":{"datum":74.2,"type":"quantitative","scale":{"domain":[0,100],"nice":false,"zero":false}}}}
 ]},
{"width":335,"height":271,
 "layer":[
  {"data":{"name":"b"},"mark":{"type":"line","color":"black","strokeWidth":2},
   "encoding":{"x":{"field":"x","type":"quantitative","scale":{"domain":[212.5,187.5],"nice":false,"zero":false},"axis":{"title":"Binding energy (eV)","values":[210,207.5,205,202.5,200,197.5,195,192.5,190],"format":"d","labelExpr":"datum.value % 5 === 0 ? datum.label : ''","tickSize":{"condition":{"test":"datum.value % 5 === 0","value":4.5},"value":2.5},"labelPadding":3,"titlePadding":10}},
   "y":{"field":"y","type":"quantitative","scale":{"domain":[0,100],"nice":false,"zero":false},"axis":{"title":"Intensity (a.u.)","labels":false,"ticks":false,"titlePadding":6}}}},
  {"data":{"name":"bc"},"transform":[{"filter":"datum.s == 'P3' || datum.s == 'P4'"}],"mark":{"type":"line","color":"#3b7ba6","strokeWidth":1.8},
   "encoding":{"x":{"field":"x","type":"quantitative","scale":{"domain":[212.5,187.5],"nice":false,"zero":false}},"y":{"field":"y","type":"quantitative","scale":{"domain":[0,100],"nice":false,"zero":false}},"detail":{"field":"s"}}},
  {"data":{"name":"bc"},"transform":[{"filter":"datum.s == 'P1' || datum.s == 'P2'"}],"mark":{"type":"line","color":"#5fbf9f","strokeWidth":1.8},
   "encoding":{"x":{"field":"x","type":"quantitative","scale":{"domain":[212.5,187.5],"nice":false,"zero":false}},"y":{"field":"y","type":"quantitative","scale":{"domain":[0,100],"nice":false,"zero":false}},"detail":{"field":"s"}}},
  {"data":{"name":"b"},"mark":{"type":"point","shape":"circle","filled":true,"fill":"white","stroke":"black","strokeWidth":1,"size":22,"opacity":1},
   "encoding":{"x":{"field":"x","type":"quantitative","scale":{"domain":[212.5,187.5],"nice":false,"zero":false}},"y":{"field":"y","type":"quantitative","scale":{"domain":[0,100],"nice":false,"zero":false}}}},
  {"data":{"values":[{}]},"mark":{"type":"rule","color":"#5fbf9f","strokeWidth":1.5},
   "encoding":{"x":{"datum":196.99,"type":"quantitative","scale":{"domain":[212.5,187.5],"nice":false,"zero":false}},"y":{"datum":30.1,"type":"quantitative","scale":{"domain":[0,100],"nice":false,"zero":false}},"x2":{"datum":198.8},"y2":{"datum":23.9}}},
  {"data":{"values":[{}]},"mark":{"type":"point","shape":"triangle-left","filled":true,"color":"#5fbf9f","size":45,"angle":-34,"opacity":1},
   "encoding":{"x":{"datum":198.8,"type":"quantitative","scale":{"domain":[212.5,187.5],"nice":false,"zero":false}},"y":{"datum":23.9,"type":"quantitative","scale":{"domain":[0,100],"nice":false,"zero":false}}}},
  {"data":{"values":[{}]},"mark":{"type":"text","text":"b","color":"black","fontSize":34},
   "encoding":{"x":{"datum":215.78,"type":"quantitative","scale":{"domain":[212.5,187.5],"nice":false,"zero":false}},"y":{"datum":92.3,"type":"quantitative","scale":{"domain":[0,100],"nice":false,"zero":false}}}},
  {"data":{"values":[{}]},"mark":{"type":"text","text":["Cl 2p","CoPPc-CNT immersed in electrolyte"],"color":"black"},
   "encoding":{"x":{"datum":211.98,"type":"quantitative","scale":{"domain":[212.5,187.5],"nice":false,"zero":false}},"y":{"datum":92.7,"type":"quantitative","scale":{"domain":[0,100],"nice":false,"zero":false}}}},
  {"data":{"values":[{}]},"mark":{"type":"text","text":"NaCl","color":"#5fbf9f"},
   "encoding":{"x":{"datum":198.11,"type":"quantitative","scale":{"domain":[212.5,187.5],"nice":false,"zero":false}},"y":{"datum":76.4,"type":"quantitative","scale":{"domain":[0,100],"nice":false,"zero":false}}}},
  {"data":{"values":[{}]},"mark":{"type":"text","text":["Aluminum","chloride"],"color":"#3b7ba6","lineHeight":18.3},
   "encoding":{"x":{"datum":196.5,"type":"quantitative","scale":{"domain":[212.5,187.5],"nice":false,"zero":false}},"y":{"datum":34.3,"type":"quantitative","scale":{"domain":[0,100],"nice":false,"zero":false}}}}
 ]},
{"width":335,"height":271,
 "layer":[
  {"data":{"name":"c"},"mark":{"type":"line","color":"black","strokeWidth":1.8},
   "encoding":{"x":{"field":"x","type":"quantitative","scale":{"domain":[177,155],"nice":false,"zero":false},"axis":{"title":"Binding energy (eV)","values":[175,172.5,170,167.5,165,162.5,160,157.5,155],"format":"d","labelExpr":"datum.value % 5 === 0 ? datum.label : ''","tickSize":{"condition":{"test":"datum.value % 5 === 0","value":4.5},"value":2.5},"labelPadding":3,"titlePadding":10}},
   "y":{"field":"y","type":"quantitative","scale":{"domain":[0,100],"nice":false,"zero":false},"axis":{"title":"Intensity (a.u.)","labels":false,"ticks":false,"titlePadding":6}}}},
  {"data":{"values":[{}]},"mark":{"type":"text","text":"c","color":"black","fontSize":34},
   "encoding":{"x":{"datum":179.57,"type":"quantitative","scale":{"domain":[177,155],"nice":false,"zero":false}},"y":{"datum":92.3,"type":"quantitative","scale":{"domain":[0,100],"nice":false,"zero":false}}}},
  {"data":{"values":[{}]},"mark":{"type":"text","text":["S 2p","CoPPc-CNT immersed in electrolyte"],"color":"black"},
   "encoding":{"x":{"datum":176.54,"type":"quantitative","scale":{"domain":[177,155],"nice":false,"zero":false}},"y":{"datum":92.7,"type":"quantitative","scale":{"domain":[0,100],"nice":false,"zero":false}}}},
  {"data":{"values":[{}]},"mark":{"type":"text","text":"FSI","color":"black"},
   "encoding":{"x":{"datum":168.47,"type":"quantitative","scale":{"domain":[177,155],"nice":false,"zero":false}},"y":{"datum":66.8,"type":"quantitative","scale":{"domain":[0,100],"nice":false,"zero":false}}}},
  {"data":{"values":[{}]},"mark":{"type":"text","text":"-","color":"black","fontSize":10,"baseline":"middle"},
   "encoding":{"x":{"datum":166.94,"type":"quantitative","scale":{"domain":[177,155],"nice":false,"zero":false}},"y":{"datum":70.0,"type":"quantitative","scale":{"domain":[0,100],"nice":false,"zero":false}}}}
 ]},
{"width":335,"height":271,
 "layer":[
  {"data":{"name":"d"},"transform":[{"filter":"datum.x < 690.3 && datum.x > 682.0"}],"mark":{"type":"line","color":"black","strokeWidth":2.2},
   "encoding":{"x":{"field":"x","type":"quantitative","scale":{"domain":[700,675],"nice":false,"zero":false},"axis":{"title":"Binding energy (eV)","values":[700,697.5,695,692.5,690,687.5,685,682.5,680,677.5,675],"format":"d","labelExpr":"datum.value % 5 === 0 ? datum.label : ''","tickSize":{"condition":{"test":"datum.value % 5 === 0","value":4.5},"value":2.5},"labelPadding":3,"titlePadding":10}},
   "y":{"field":"y","type":"quantitative","scale":{"domain":[0,100],"nice":false,"zero":false},"axis":{"title":"Intensity (a.u.)","labels":false,"ticks":false,"titlePadding":6}}}},
  {"data":{"name":"d"},"mark":{"type":"line","color":"#5fbf9f","strokeWidth":1.4},
   "encoding":{"x":{"field":"x","type":"quantitative","scale":{"domain":[700,675],"nice":false,"zero":false}},"y":{"field":"y","type":"quantitative","scale":{"domain":[0,100],"nice":false,"zero":false}}}},
  {"data":{"name":"d"},"mark":{"type":"point","shape":"circle","filled":true,"fill":"white","stroke":"black","strokeWidth":1,"size":22,"opacity":1},
   "encoding":{"x":{"field":"x","type":"quantitative","scale":{"domain":[700,675],"nice":false,"zero":false}},"y":{"field":"y","type":"quantitative","scale":{"domain":[0,100],"nice":false,"zero":false}}}},
  {"data":{"values":[{}]},"mark":{"type":"text","text":"d","color":"black","fontSize":34},
   "encoding":{"x":{"datum":703.36,"type":"quantitative","scale":{"domain":[700,675],"nice":false,"zero":false}},"y":{"datum":92.6,"type":"quantitative","scale":{"domain":[0,100],"nice":false,"zero":false}}}},
  {"data":{"values":[{}]},"mark":{"type":"text","text":["F 1s","CoPPc-CNT immersed in electrolyte"],"color":"black"},
   "encoding":{"x":{"datum":699.48,"type":"quantitative","scale":{"domain":[700,675],"nice":false,"zero":false}},"y":{"datum":92.7,"type":"quantitative","scale":{"domain":[0,100],"nice":false,"zero":false}}}},
  {"data":{"values":[{}]},"mark":{"type":"text","text":"FSI","color":"#5fbf9f"},
   "encoding":{"x":{"datum":685.73,"type":"quantitative","scale":{"domain":[700,675],"nice":false,"zero":false}},"y":{"datum":74.7,"type":"quantitative","scale":{"domain":[0,100],"nice":false,"zero":false}}}},
  {"data":{"values":[{}]},"mark":{"type":"text","text":"-","color":"#5fbf9f","fontSize":10,"baseline":"middle"},
   "encoding":{"x":{"datum":683.95,"type":"quantitative","scale":{"domain":[700,675],"nice":false,"zero":false}},"y":{"datum":77.7,"type":"quantitative","scale":{"domain":[0,100],"nice":false,"zero":false}}}}
 ]},
{"width":335,"height":271,
 "layer":[
  {"data":{"name":"e"},"mark":{"type":"line","color":"#5fbf9f","strokeWidth":1.4},
   "encoding":{"x":{"field":"x","type":"quantitative","scale":{"domain":[81,69],"nice":false,"zero":false},"axis":{"title":"Binding energy (eV)","values":[80,79,78,77,76,75,74,73,72,71,70],"format":"d","labelExpr":"datum.value % 2 === 0 ? datum.label : ''","tickSize":{"condition":{"test":"datum.value % 2 === 0","value":4.5},"value":2.5},"labelPadding":3,"titlePadding":10}},
   "y":{"field":"y","type":"quantitative","scale":{"domain":[0,100],"nice":false,"zero":false},"axis":{"title":"Intensity (a.u.)","labels":false,"ticks":false,"titlePadding":6}}}},
  {"data":{"name":"eb"},"mark":{"type":"line","color":"black","strokeWidth":2},
   "encoding":{"x":{"field":"x","type":"quantitative","scale":{"domain":[81,69],"nice":false,"zero":false}},"y":{"field":"y","type":"quantitative","scale":{"domain":[0,100],"nice":false,"zero":false}}}},
  {"data":{"name":"ec"},"mark":{"type":"line","color":"#5fbf9f","strokeWidth":2},
   "encoding":{"x":{"field":"x","type":"quantitative","scale":{"domain":[81,69],"nice":false,"zero":false}},"y":{"field":"y","type":"quantitative","scale":{"domain":[0,100],"nice":false,"zero":false}},"detail":{"field":"s"}}},
  {"data":{"name":"e"},"mark":{"type":"point","shape":"circle","filled":true,"fill":"white","stroke":"black","strokeWidth":1,"size":22,"opacity":1},
   "encoding":{"x":{"field":"x","type":"quantitative","scale":{"domain":[81,69],"nice":false,"zero":false}},"y":{"field":"y","type":"quantitative","scale":{"domain":[0,100],"nice":false,"zero":false}}}},
  {"data":{"values":[{}]},"mark":{"type":"text","text":"e","color":"black","fontSize":34},
   "encoding":{"x":{"datum":82.58,"type":"quantitative","scale":{"domain":[81,69],"nice":false,"zero":false}},"y":{"datum":92.6,"type":"quantitative","scale":{"domain":[0,100],"nice":false,"zero":false}}}},
  {"data":{"values":[{}]},"mark":{"type":"text","text":["Al 2p","CoPPc-CNT immersed in electrolyte"],"color":"black"},
   "encoding":{"x":{"datum":80.75,"type":"quantitative","scale":{"domain":[81,69],"nice":false,"zero":false}},"y":{"datum":92.7,"type":"quantitative","scale":{"domain":[0,100],"nice":false,"zero":false}}}},
  {"data":{"values":[{}]},"mark":{"type":"text","text":["Aluminum","chloride"],"color":"#5fbf9f","lineHeight":18.3},
   "encoding":{"x":{"datum":74.34,"type":"quantitative","scale":{"domain":[81,69],"nice":false,"zero":false}},"y":{"datum":54.2,"type":"quantitative","scale":{"domain":[0,100],"nice":false,"zero":false}}}}
 ]},
{"width":335,"height":271,
 "layer":[
  {"data":{"name":"fp"},"mark":{"type":"line","color":"black","strokeWidth":1.6},
   "encoding":{"x":{"field":"x","type":"quantitative","scale":{"domain":[820,765],"nice":false,"zero":false},"axis":{"title":"Binding energy (eV)","values":[820,815,810,805,800,795,790,785,780,775,770],"format":"d","labelExpr":"datum.value % 10 === 0 ? datum.label : ''","tickSize":{"condition":{"test":"datum.value % 10 === 0","value":4.5},"value":2.5},"labelPadding":3,"titlePadding":10}},
   "y":{"field":"y","type":"quantitative","scale":{"domain":[0,100],"nice":false,"zero":false},"axis":{"title":"Intensity (a.u.)","labels":false,"ticks":false,"titlePadding":6}}}},
  {"data":{"name":"ft"},"mark":{"type":"line","color":"#5fbf9f","strokeWidth":1.8},
   "encoding":{"x":{"field":"x","type":"quantitative","scale":{"domain":[820,765],"nice":false,"zero":false}},"y":{"field":"y","type":"quantitative","scale":{"domain":[0,100],"nice":false,"zero":false}}}},
  {"data":{"values":[{}]},"mark":{"type":"text","text":"f","color":"black","fontSize":34},
   "encoding":{"x":{"datum":826.38,"type":"quantitative","scale":{"domain":[820,765],"nice":false,"zero":false}},"y":{"datum":92.6,"type":"quantitative","scale":{"domain":[0,100],"nice":false,"zero":false}}}},
  {"data":{"values":[{}]},"mark":{"type":"text","text":"Co 2p","color":"black"},
   "encoding":{"x":{"datum":818.86,"type":"quantitative","scale":{"domain":[820,765],"nice":false,"zero":false}},"y":{"datum":92.7,"type":"quantitative","scale":{"domain":[0,100],"nice":false,"zero":false}}}},
  {"data":{"values":[{}]},"mark":{"type":"text","text":["CoPPc-CNT immersed","in electrolyte"],"color":"#5fbf9f","lineHeight":17.6},
   "encoding":{"x":{"datum":818.8,"type":"quantitative","scale":{"domain":[820,765],"nice":false,"zero":false}},"y":{"datum":46.1,"type":"quantitative","scale":{"domain":[0,100],"nice":false,"zero":false}}}},
  {"data":{"values":[{}]},"mark":{"type":"text","text":"Pristine CoPPc-CNT","color":"black"},
   "encoding":{"x":{"datum":819.0,"type":"quantitative","scale":{"domain":[820,765],"nice":false,"zero":false}},"y":{"datum":4.6,"type":"quantitative","scale":{"domain":[0,100],"nice":false,"zero":false}}}}
 ]}
]
}
